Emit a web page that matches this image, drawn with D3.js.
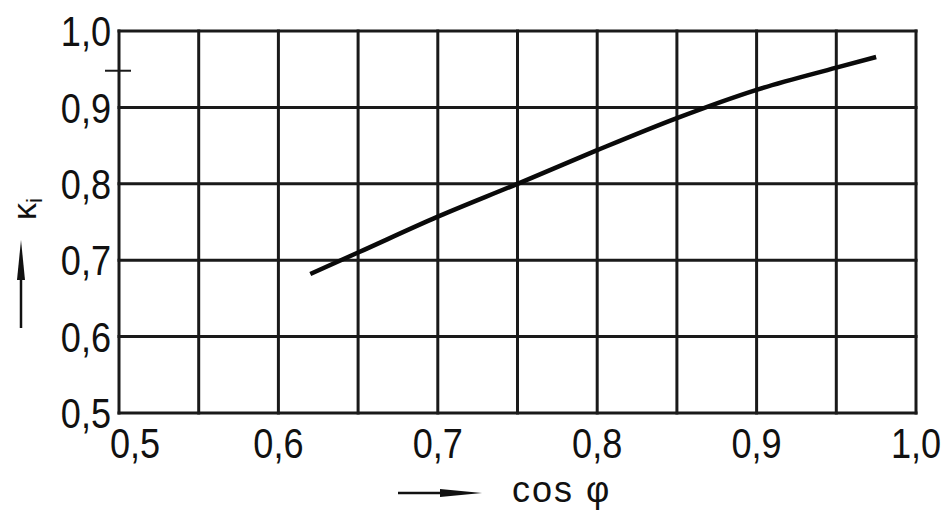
<!DOCTYPE html>
<html>
<head>
<meta charset="utf-8">
<script src="https://d3js.org/d3.v7.min.js"></script>
<style>
body { margin: 0; overflow: hidden; background: #fff; }
.grid line { stroke: #1a1a1a; stroke-width: 3px; }
.tick-label { font-family: "Liberation Sans", sans-serif; font-size: 42px; fill: #111; }
.title { font-family: "Liberation Sans", sans-serif; fill: #111; }
</style>
</head>
<body>
<svg width="949" height="513"></svg>
<script>
// cos phi vs k_i
const cosPhi = [0.62, 0.65, 0.70, 0.75, 0.80, 0.85, 0.90, 0.95, 0.975];
const kI     = [0.682, 0.710, 0.757, 0.800, 0.844, 0.886, 0.923, 0.952, 0.966];

const xGrid = [0.5, 0.55, 0.6, 0.65, 0.7, 0.75, 0.8, 0.85, 0.9, 0.95, 1.0];
const yGrid = [0.5, 0.6, 0.7, 0.8, 0.9, 1.0];
const xTickLabels = ['0,5', '0,6', '0,7', '0,8', '0,9', '1,0'];
const xTickValues = [0.5, 0.6, 0.7, 0.8, 0.9, 1.0];
const yTickLabels = ['0,5', '0,6', '0,7', '0,8', '0,9', '1,0'];
const yTickValues = [0.5, 0.6, 0.7, 0.8, 0.9, 1.0];

const svg = d3.select('svg');

const x = d3.scaleLinear().domain([0.5, 1.0]).range([119, 916]);
const y = d3.scaleLinear().domain([0.5, 1.0]).range([413, 31]);

const grid = svg.append('g').attr('class', 'grid');

grid.selectAll('.v').data(xGrid)
  .enter().append('line')
    .attr('class', 'v')
    .attr('x1', d => x(d)).attr('x2', d => x(d))
    .attr('y1', y(0.5) + 1.5).attr('y2', y(1.0) - 1.5);

grid.selectAll('.h').data(yGrid)
  .enter().append('line')
    .attr('class', 'h')
    .attr('y1', d => y(d)).attr('y2', d => y(d))
    .attr('x1', x(0.5) - 1.5).attr('x2', x(1.0) + 1.5);

// little stray tick on the left axis
grid.append('line')
  .attr('x1', x(0.5) - 14).attr('x2', x(0.5) + 12)
  .attr('y1', y(0.948)).attr('y2', y(0.948))
  .style('stroke-width', '2px');

const line = d3.line()
  .x((d, i) => x(cosPhi[i]))
  .y(d => y(d))
  .curve(d3.curveMonotoneX);

svg.append('path')
  .datum(kI)
  .attr('d', line)
  .attr('fill', 'none')
  .attr('stroke', '#0a0a0a')
  .attr('stroke-width', 4.5);

// narrow digits like the print: squeeze horizontally
svg.selectAll('.ylab').data(yTickValues)
  .enter().append('text')
    .attr('class', 'tick-label ylab')
    .attr('transform', d => `translate(${x(0.5) - 8},${y(d)}) scale(0.86,1)`)
    .attr('dy', '0.36em')
    .attr('text-anchor', 'end')
    .text((d, i) => yTickLabels[i]);

svg.selectAll('.xlab').data(xTickValues)
  .enter().append('text')
    .attr('class', 'tick-label xlab')
    .attr('transform', (d, i) => `translate(${x(d) + (i === 0 ? 16 : 0)},${y(0.5) + 45}) scale(0.86,1)`)
    .attr('text-anchor', 'middle')
    .text((d, i) => xTickLabels[i]);

// x title with arrow
const xt = svg.append('g');
xt.append('line')
  .attr('x1', 398).attr('x2', 450).attr('y1', 493).attr('y2', 493)
  .attr('stroke', '#111').attr('stroke-width', 2.5);
xt.append('path')
  .attr('d', 'M440,489 L482,493 L440,497 Z')
  .attr('fill', '#111');
xt.append('text')
  .attr('class', 'title')
  .attr('x', 512).attr('y', 502)
  .style('font-size', '36px')
  .style('letter-spacing', '2px')
  .text('cos φ');

// y title with arrow
const yt = svg.append('g');
yt.append('line')
  .attr('x1', 21).attr('x2', 21).attr('y1', 328).attr('y2', 270)
  .attr('stroke', '#111').attr('stroke-width', 2.5);
yt.append('path')
  .attr('d', 'M17,280 L21,240 L25,280 Z')
  .attr('fill', '#111');
const yText = yt.append('text')
  .attr('class', 'title')
  .attr('transform', 'translate(36,220) rotate(-90)')
  .style('font-size', '34px');
yText.append('tspan').text('κ');
yText.append('tspan').attr('dy', 6).style('font-size', '22px').text('i');
</script>
</body>
</html>
